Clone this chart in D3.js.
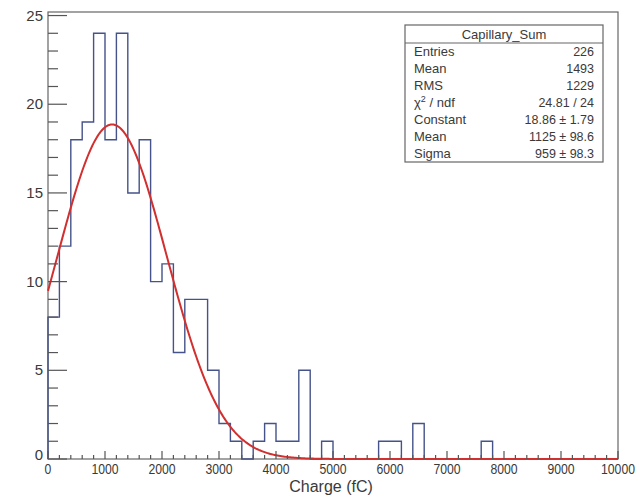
<!DOCTYPE html>
<html>
<head>
<meta charset="utf-8">
<script src="https://cdn.jsdelivr.net/npm/d3@7"></script>
<style>
  body { margin: 0; background: #fff; }
  svg { display: block; font-family: 'Liberation Sans', Arial, sans-serif; }
</style>
</head>
<body>
<svg id="chart" width="640" height="504"></svg>
<script>
// histogram contents, 50 bins of 200 fC from 0 to 10000
var binWidth = 200;
var counts = [8, 12, 18, 19, 24, 18, 24, 15, 18, 10,
              11, 6, 9, 9, 5, 2, 1, 0, 1, 2,
              1, 1, 5, 0, 1, 0, 0, 0, 0, 1,
              1, 0, 2, 0, 0, 0, 0, 0, 1, 0,
              0, 0, 0, 0, 0, 0, 0, 0, 0, 0];

// gaussian fit
var fitConstant = 18.86;
var fitMean = 1125;
var fitSigma = 959;

var xTicks = [0, 1000, 2000, 3000, 4000, 5000, 6000, 7000, 8000, 9000, 10000];
var yTicks = [0, 5, 10, 15, 20, 25];

var statTitle = 'Capillary_Sum';
var statNames = ['Entries', 'Mean', 'RMS', 'chi', 'Constant', 'Mean', 'Sigma'];
var statValues = ['226', '1493', '1229', '24.81 / 24', '18.86 \u00b1 1.79', '1125 \u00b1 98.6', '959 \u00b1 98.3'];

//-------------------

function buildChart() {
  var left = 48, right = 618, frameTop = 12, bottom = 459;
  var histColor = '#45538a';
  var textColor = '#3a3a3a';
  var svg = d3.select('#chart');

  var x = d3.scaleLinear().domain([0, 10000]).range([left, right]);
  var y = d3.scaleLinear().domain([0, 25.2]).range([bottom, frameTop]);

  svg.append('rect').attr('width', 640).attr('height', 504).style('fill', '#fff');

  // frame
  svg.append('rect')
    .attr('x', left).attr('y', frameTop)
    .attr('width', right - left).attr('height', bottom - frameTop)
    .style('fill', 'none').style('stroke', '#666').style('stroke-width', 1.2);

  // histogram outline
  var pts = [[x(0), y(0)]];
  counts.forEach(function(c, i) {
    pts.push([x(i * binWidth), y(c)]);
    pts.push([x((i + 1) * binWidth), y(c)]);
  });
  pts.push([x(counts.length * binWidth), y(0)]);

  svg.append('path')
    .attr('d', d3.line()(pts))
    .style('fill', 'none')
    .style('stroke', histColor)
    .style('stroke-width', 1.4);

  // fit curve
  var fitPts = d3.range(0, 10001, 25).map(function(v) {
    var t = (v - fitMean) / fitSigma;
    return [x(v), y(fitConstant * Math.exp(-0.5 * t * t))];
  });
  svg.append('path')
    .attr('d', d3.line()(fitPts))
    .style('fill', 'none')
    .style('stroke', '#d22f2f')
    .style('stroke-width', 2);

  // y axis ticks (inside frame)
  var yMinor = d3.range(0, 26, 1);
  svg.selectAll('.ymin').data(yMinor).enter().append('line')
    .attr('x1', left).attr('x2', function(d) { return d % 5 == 0 ? left + 19 : left + 10; })
    .attr('y1', function(d) { return y(d); }).attr('y2', function(d) { return y(d); })
    .style('stroke', '#555').style('stroke-width', 1.2);

  svg.selectAll('.ylab').data(yTicks).enter().append('text')
    .attr('x', 43)
    .attr('y', function(d) { return y(d) + (d == 0 ? 1 : 5); })
    .attr('text-anchor', 'end')
    .attr('font-size', 15)
    .style('fill', textColor)
    .text(function(d) { return d; });

  // x axis ticks
  var xMinor = d3.range(0, 10001, 200);
  svg.selectAll('.xmin').data(xMinor).enter().append('line')
    .attr('x1', function(d) { return x(d); }).attr('x2', function(d) { return x(d); })
    .attr('y1', bottom).attr('y2', function(d) { return d % 1000 == 0 ? bottom - 8 : bottom - 4; })
    .style('stroke', '#555').style('stroke-width', 1.2);

  svg.selectAll('.xlab').data(xTicks).enter().append('text')
    .attr('x', function(d) { return x(d); })
    .attr('y', 474)
    .attr('text-anchor', 'middle')
    .attr('font-size', 14)
    .attr('textLength', function(d) { return String(d).length * 6.8; })
    .attr('lengthAdjust', 'spacingAndGlyphs')
    .style('fill', textColor)
    .text(function(d) { return d; });

  svg.append('text')
    .attr('x', 331).attr('y', 492)
    .attr('text-anchor', 'middle')
    .attr('font-size', 16)
    .style('fill', textColor)
    .text('Charge (fC)');

  // stats box
  var bx = 405, by = 25, bw = 198, bh = 137, titleH = 18;
  var box = svg.append('g');
  box.append('rect').attr('x', bx).attr('y', by).attr('width', bw).attr('height', bh)
    .style('fill', '#fff').style('stroke', '#666').style('stroke-width', 1.2);
  box.append('line').attr('x1', bx).attr('x2', bx + bw).attr('y1', by + titleH).attr('y2', by + titleH)
    .style('stroke', '#666').style('stroke-width', 1.2);
  box.append('text')
    .attr('x', bx + bw / 2).attr('y', by + 14)
    .attr('text-anchor', 'middle').attr('font-size', 13).style('fill', textColor)
    .text(statTitle);

  var rowH = (bh - titleH) / statNames.length;
  statNames.forEach(function(n, i) {
    var ty = by + titleH + rowH * (i + 0.5) + 4.5;
    var t = box.append('text').attr('x', bx + 9).attr('y', ty)
      .attr('font-size', 13).style('fill', textColor);
    if (n == 'chi') {
      t.append('tspan').text('\u03c7');
      t.append('tspan').attr('font-size', 9).attr('dy', -5).text('2');
      t.append('tspan').attr('dy', 5).text(' / ndf');
    } else {
      t.text(n);
    }
    box.append('text').attr('x', bx + bw - 9).attr('y', ty)
      .attr('text-anchor', 'end').attr('font-size', 12.5).style('fill', textColor)
      .text(statValues[i]);
  });
}

buildChart();
</script>
</body>
</html>
